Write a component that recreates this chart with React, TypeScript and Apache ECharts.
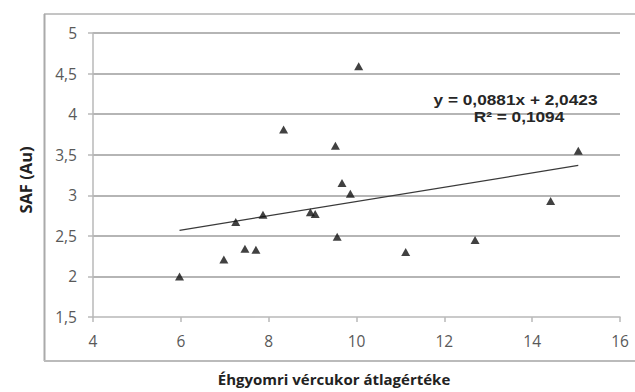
import React, { useEffect, useRef } from "react";
import * as echarts from "echarts";

const xValues = [5.97, 6.98, 7.25, 7.46, 7.71, 7.87, 8.34, 8.95, 9.06, 9.52, 9.56, 9.67, 9.86, 10.05, 11.12, 12.7, 14.42, 15.05];
const yValues = [2.0, 2.21, 2.67, 2.34, 2.33, 2.76, 3.81, 2.79, 2.77, 3.61, 2.49, 3.15, 3.02, 4.59, 2.3, 2.45, 2.93, 3.55];
const trendSlope = 0.0881;
const trendIntercept = 2.0423;
const equationText = "y = 0,0881x + 2,0423";
const r2Text = "R² = 0,1094";
const yTitle = "SAF (Au)";
const xTitle = "Éhgyomri vércukor átlagértéke";

export default function App() {
  const ref = useRef<HTMLDivElement>(null);
  useEffect(() => {
    if (!ref.current) return;
    const chart = echarts.init(ref.current, null, { renderer: "svg" });
    const points = xValues.map((x, i) => [x, yValues[i]]);
    const xMin = Math.min(...xValues);
    const xMax = Math.max(...xValues);
    const trend = [
      [xMin, trendSlope * xMin + trendIntercept],
      [xMax, trendSlope * xMax + trendIntercept],
    ];
    const fmt = (v: number) => String(v).replace(".", ",");
    chart.setOption({
      animation: false,
      backgroundColor: "#ffffff",
      grid: { left: 93, right: 15, top: 33, bottom: 75 },
      xAxis: {
        type: "value",
        min: 4,
        max: 16,
        interval: 2,
        axisLine: { show: true, lineStyle: { color: "#b8b8b8", width: 1.5 } },
        axisTick: { show: true, length: 5, lineStyle: { color: "#b8b8b8", width: 1.5 } },
        axisLabel: { color: "#595959", fontFamily: "Open Sans", fontSize: 15.5, margin: 16, formatter: fmt },
        splitLine: { show: false },
      },
      yAxis: {
        type: "value",
        min: 1.5,
        max: 5,
        interval: 0.5,
        axisLine: { show: true, lineStyle: { color: "#b8b8b8", width: 1.5 } },
        axisTick: { show: true, length: 5, lineStyle: { color: "#b8b8b8", width: 1.5 } },
        axisLabel: { color: "#595959", fontFamily: "Open Sans", fontSize: 15.5, margin: 16, formatter: fmt },
        splitLine: { show: true, showMinLine: false, lineStyle: { color: "#9c9c9c", width: 1.6 } },
      },
      series: [
        {
          type: "line",
          data: trend,
          symbol: "none",
          lineStyle: { color: "#3a3a3a", width: 1.2 },
          z: 3,
        },
        {
          type: "scatter",
          data: points,
          symbol: "triangle",
          symbolSize: [9, 8],
          itemStyle: { color: "#111111" },
          z: 4,
        },
      ],
      graphic: [
        { type: "line", shape: { x1: 44, y1: 14, x2: 635, y2: 14 }, style: { stroke: "#8a8a8a", lineWidth: 1 } },
        { type: "line", shape: { x1: 44.5, y1: 14, x2: 44.5, y2: 361 }, style: { stroke: "#aaaaaa", lineWidth: 2 } },
        { type: "line", shape: { x1: 44, y1: 361, x2: 635, y2: 361 }, style: { stroke: "#bbbbbb", lineWidth: 2 } },
        {
          type: "text",
          x: 515.5,
          y: 99.5,
          scaleX: 1.15,
          style: { text: equationText, font: "bold 15px 'Liberation Sans', Arial", fill: "#262626", align: "center", verticalAlign: "middle" },
          z: 10,
        },
        {
          type: "text",
          x: 519,
          y: 116.5,
          scaleX: 1.15,
          style: { text: r2Text, font: "bold 15px 'Liberation Sans', Arial", fill: "#262626", align: "center", verticalAlign: "middle" },
          z: 10,
        },
        {
          type: "text",
          x: 25,
          y: 180,
          rotation: Math.PI / 2,
          style: { text: yTitle, font: "bold 16.5px 'Open Sans'", fill: "#222222", align: "center", verticalAlign: "middle" },
        },
        {
          type: "text",
          x: 334,
          y: 379,
          style: { text: xTitle, font: "bold 15px 'Open Sans'", fill: "#222222", align: "center", verticalAlign: "middle" },
        },
      ],
    });
    return () => chart.dispose();
  }, []);
  return <div ref={ref} style={{ position: "fixed", left: 0, top: 0, width: 635, height: 392 }} />;
}
